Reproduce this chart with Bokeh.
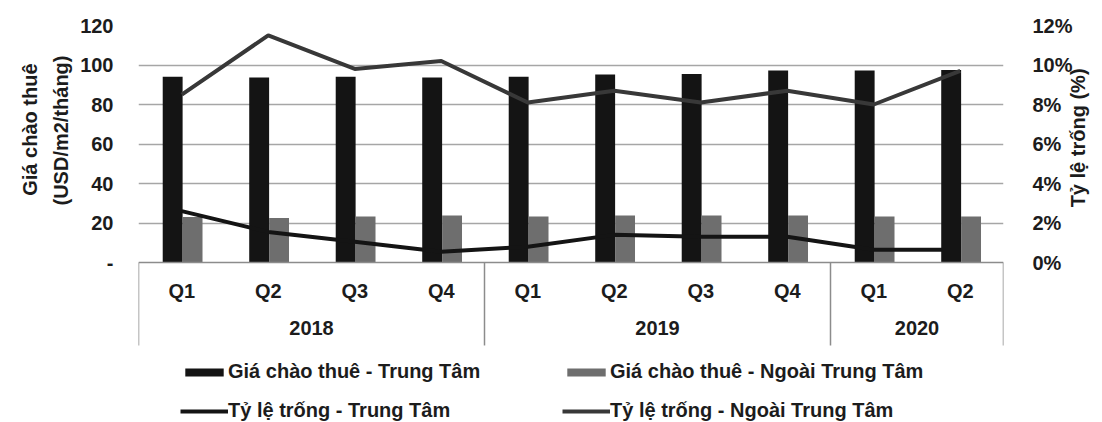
import math
from bokeh.plotting import figure
from bokeh.models import (Range1d, LinearAxis, FixedTicker, Legend, LegendItem, Title,
                          ColumnDataSource, PrintfTickFormatter)
from bokeh.transform import dodge
from bokeh.core.properties import value
from bokeh.embed import file_html
from bokeh.resources import INLINE

# ---------------- data ----------------
quarters = ["Q1", "Q2", "Q3", "Q4", "Q1", "Q2", "Q3", "Q4", "Q1", "Q2"]
years_of = ["2018", "2018", "2018", "2018", "2019", "2019", "2019", "2019", "2020", "2020"]
gia_trung_tam = [94.0, 93.7, 94.0, 93.7, 94.0, 95.2, 95.5, 97.2, 97.2, 97.5]
gia_ngoai_trung_tam = [23.0, 22.6, 23.3, 23.8, 23.3, 23.8, 23.8, 23.8, 23.3, 23.3]
ty_le_trong_trung_tam = [2.6, 1.55, 1.05, 0.55, 0.8, 1.4, 1.3, 1.3, 0.65, 0.65]
ty_le_trong_ngoai = [8.5, 11.5, 9.8, 10.2, 8.1, 8.7, 8.1, 8.7, 8.0, 9.7]
left_ticks = [0, 20, 40, 60, 80, 100, 120]
right_ticks = [0, 2, 4, 6, 8, 10, 12]

FONT = "Liberation Sans"
TXT = "#1c1c1c"

n = len(quarters)
xs = [i + 0.5 for i in range(n)]
src = ColumnDataSource(dict(x=xs, q=quarters, tt=gia_trung_tam, ntt=gia_ngoai_trung_tam,
                            vt=ty_le_trong_trung_tam, vn=ty_le_trong_ngoai))

p = figure(width=1102, height=422, output_backend="svg", toolbar_location=None,
           x_range=Range1d(0, n), y_range=Range1d(-81, 120),
           x_axis_location=None,
           min_border_left=138, min_border_right=99, min_border_top=25, min_border_bottom=0)
p.extra_y_ranges = {"pct": Range1d(-8.1, 12)}
p.outline_line_color = None
p.background_fill_color = "white"

# left axis
ya = p.yaxis[0]
ya.ticker = FixedTicker(ticks=left_ticks)
ya.bounds = (0, 120)
ya.axis_line_color = None
ya.major_tick_line_color = None
ya.minor_tick_line_color = None
ya.major_tick_out = 0
ya.major_tick_in = 0
ya.major_label_standoff = 25
ya.major_label_overrides = {0: "-"}
ya.major_label_text_font = FONT
ya.major_label_text_font_size = "20px"
ya.major_label_text_font_style = "bold"
ya.major_label_text_color = TXT

# right axis
ra = LinearAxis(y_range_name="pct", ticker=FixedTicker(ticks=right_ticks),
                formatter=PrintfTickFormatter(format="%d%%"), bounds=(0, 12))
ra.axis_line_color = None
ra.major_tick_line_color = None
ra.minor_tick_line_color = None
ra.major_tick_out = 0
ra.major_tick_in = 0
ra.major_label_standoff = 29
ra.major_label_text_font = FONT
ra.major_label_text_font_size = "20px"
ra.major_label_text_font_style = "bold"
ra.major_label_text_color = TXT
ra.axis_label = "\u00a0\u00a0\u00a0Tỷ lệ trống (%)"
ra.axis_label_standoff = 2
ra.axis_label_text_font = FONT
ra.axis_label_text_font_size = "20px"
ra.axis_label_text_font_style = "bold"
ra.axis_label_text_color = TXT
if "axis_label_orientation" in ra.properties():
    ra.axis_label_orientation = math.pi / 2
ra.axis_label_text_align = "left"
p.add_layout(ra, "right")

# left axis titles
for txt, off, so in [("(USD/m2/tháng)", 30, 12), ("Giá chào thuê", 38, 2)]:
    t = Title(text=txt, align="right", offset=off, standoff=so,
              text_font=FONT, text_font_size="20px", text_font_style="bold", text_color=TXT)
    p.add_layout(t, "left")

# grid
p.ygrid.ticker = FixedTicker(ticks=left_ticks[1:])
p.ygrid.grid_line_color = "#a6a6a6"
p.ygrid.grid_line_width = 1.6
p.xgrid.grid_line_color = None

# bars
r_tt = p.vbar(x=dodge("x", -0.105, range=p.x_range), top="tt", bottom=0, width=0.23,
              source=src, fill_color="#141414", line_color=None)
r_ntt = p.vbar(x=dodge("x", 0.125, range=p.x_range), top="ntt", bottom=0, width=0.23,
               source=src, fill_color="#6e6e6e", line_color=None)

# lines
l_ntt = p.line("x", "vn", source=src, y_range_name="pct", line_width=4, line_color="#383838")
l_tt = p.line("x", "vt", source=src, y_range_name="pct", line_width=4, line_color="#141414")

# category box
bounds_x = [0] + [i for i in range(1, n) if years_of[i] != years_of[i - 1]] + [n]
p.segment(x0=[0], x1=[n], y0=[0], y1=[0], line_color="#8c8c8c", line_width=1.5)
p.segment(x0=bounds_x, x1=bounds_x, y0=[0] * len(bounds_x), y1=[-42] * len(bounds_x),
          line_color="#8c8c8c", line_width=1.5)

p.text(x="x", y=-14.2, text="q", source=src, text_align="center", text_baseline="middle",
       text_font=value(FONT), text_font_size="20px", text_font_style="bold", text_color=TXT)

year_names = []
for y in years_of:
    if y not in year_names:
        year_names.append(y)
year_x = [sum(xs[i] for i in range(n) if years_of[i] == y) / years_of.count(y) for y in year_names]
p.text(x=year_x, y=[-33] * len(year_x), text=year_names, text_align="center", text_baseline="middle",
       text_font=value(FONT), text_font_size="20px", text_font_style="bold", text_color=TXT)

# legends
def mk_legend(items, loc):
    lg = Legend(items=items, location=loc)
    lg.border_line_color = None
    lg.background_fill_alpha = 0
    lg.padding = 0
    lg.margin = 0
    lg.spacing = 16
    lg.glyph_width = 48
    lg.glyph_height = 10
    lg.label_height = 22
    lg.label_standoff = 0
    lg.label_text_font = FONT
    lg.label_text_font_size = "20px"
    lg.label_text_font_style = "bold"
    lg.label_text_color = TXT
    return lg

leg1 = mk_legend([LegendItem(label=value("Giá chào thuê - Trung Tâm"), renderers=[r_tt]),
                  LegendItem(label=value("Tỷ lệ trống - Trung Tâm"), renderers=[l_tt])], (42, 0))
leg2 = mk_legend([LegendItem(label=value("Giá chào thuê - Ngoài Trung Tâm"), renderers=[r_ntt]),
                  LegendItem(label=value("Tỷ lệ trống - Ngoài Trung Tâm"), renderers=[l_ntt])], (424, 0))
p.add_layout(leg1)
p.add_layout(leg2)

open("out.html", "w").write(file_html(p, INLINE))
